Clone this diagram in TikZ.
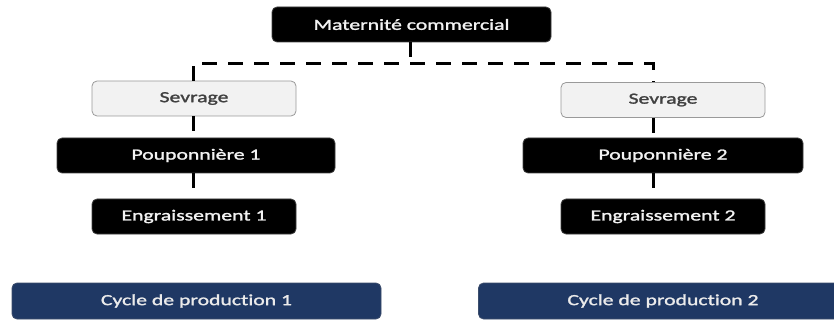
\documentclass[tikz,border=0pt]{standalone}
\usepackage{fontspec}
\setmainfont{Carlito}[FakeStretch=1.4,FakeBold=1.6,Ligatures=NoCommon]
\usetikzlibrary{calc}
\definecolor{navy}{HTML}{1F3864}
\definecolor{boxfill}{HTML}{F2F2F2}
\definecolor{boxline}{HTML}{9A9A9A}
\definecolor{boxtext}{HTML}{404040}
\begin{document}
\begin{tikzpicture}[x=1pt,y=-1pt,
  box/.style={rectangle, rounded corners=5pt, minimum height=35pt, inner sep=0pt,
    font=\fontsize{15.5}{18}\selectfont},
  darkbox/.style={box, fill=black, draw=black!75, line width=0.8pt, text=white!95!black},
  lightbox/.style={box, fill=boxfill, draw=boxline, line width=0.8pt, text=boxtext},
  cycbox/.style={box, fill=navy, draw=navy!70!gray, line width=0.8pt, text=white!92!black, minimum height=36pt},
  link/.style={line width=3pt, dash pattern=on 15pt off 11pt}
]
\useasboundingbox (0,0) rectangle (834,320);
\clip (0,0) rectangle (834,320);
\node[darkbox, minimum width=279pt] (mat) at (411.5,24.5) {Maternité commercial};
\node[lightbox, minimum width=204pt] (s1) at (194,98.5) {Sevrage};
\node[lightbox, minimum width=204pt] (s2) at (663,100) {Sevrage};
\node[darkbox, minimum width=278pt] (p1) at (196,155.5) {Pouponnière 1};
\node[darkbox, minimum width=280pt] (p2) at (663,155.5) {Pouponnière 2};
\node[darkbox, minimum width=204pt] (e1) at (194,216.5) {Engraissement 1};
\node[darkbox, minimum width=204pt] (e2) at (663,216.5) {Engraissement 2};
\node[cycbox, minimum width=369pt] (c1) at (196.5,301) {Cycle de production 1};
\node[cycbox, minimum width=369pt] (c2) at (663,301) {Cycle de production 2};
\coordinate (bus) at (0,64);
\coordinate (lx) at (193,0);
\coordinate (rx) at (653,0);
\coordinate (mx) at (410,0);
\draw[link] (mat.south -| mx) -- (bus -| mx);
\draw[link] (s1.north -| lx) -- (bus -| lx) -- (bus -| rx) -- (s2.north -| rx);
\draw[link] (s1.south -| lx) -- (p1.north -| lx);
\draw[link] (p1.south -| lx) -- (e1.north -| lx);
\draw[link] (s2.south -| rx) -- (p2.north -| rx);
\draw[link] (p2.south -| rx) -- (e2.north -| rx);
\end{tikzpicture}
\end{document}
